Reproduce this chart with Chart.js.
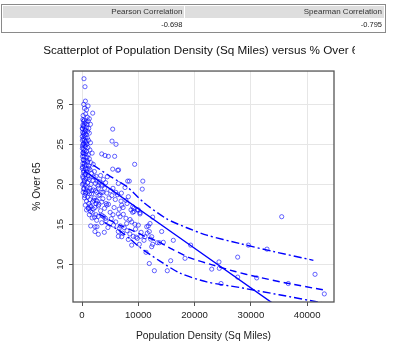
<!DOCTYPE html>
<html lang="en">
<head>
<meta charset="UTF-8">
<title>Population Density versus % Over 65</title>
<script src="https://cdn.jsdelivr.net/npm/chart.js@4.4.1/dist/chart.umd.min.js"></script>
<style>
  body { margin: 0; background: #fff; font-family: "Liberation Sans", Arial, sans-serif; }
  #wrap { position: absolute; left: 0; top: 0; width: 355px; height: 361px; overflow: hidden; }
  #corr { position: absolute; left: 1px; top: 4px; width: 385px; border: 1px solid #8a8a8a;
          border-collapse: separate; border-spacing: 1px; font-family: "Liberation Sans", Arial, sans-serif; }
  #corr th { background: #dedede; font-weight: normal; font-size: 8px; color: #333; text-align: right;
             height: 12px; line-height: 12px; padding: 0 2px; }
  #corr td { font-size: 7.5px; color: #222; text-align: right; height: 12px; line-height: 12px; padding: 0 2px; }
</style>
</head>
<body>
<div id="wrap"><canvas id="chart" width="400" height="361"></canvas></div>
<table id="corr"></table>

<script>
    const corrNames = ['Pearson Correlation', 'Spearman Correlation'];
    const corrValues = ['-0.698', '-0.795'];

    const xTicks = [0, 10000, 20000, 30000, 40000];
    const yTicks = [10, 15, 20, 25, 30];

    // [population density, % over 65]
    const counties = [
        [350,33.2],[530,32.2],[600,30.4],[300,30.0],[1070,29.8],[450,29.5],[800,29.3],[1900,28.9],[200,28.6],[650,28.8],
        [950,28.4],[1300,28.2],[400,28.0],[150,28.1],
        [250,27.9],[700,27.8],[1100,27.9],[500,27.6],[900,27.5],[150,27.4],[1500,27.5],[350,27.2],[800,27.1],[1200,27.0],
        [100,26.9],[600,26.8],[450,26.5],[1000,26.6],[250,26.3],[750,26.2],[1300,26.4],[50,26.0],[550,25.9],[950,25.8],
        [200,25.7],[400,25.5],[700,25.4],[1150,25.5],[300,25.1],[850,25.0],[1500,25.2],[100,24.8],[600,24.7],[1050,24.6],
        [250,24.4],[450,24.2],[800,24.1],[1400,24.3],[150,23.9],[650,23.8],[1100,23.7],[1800,23.9],[350,23.5],[900,23.4],
        [1300,23.2],[200,23.1],[550,22.9],[1000,22.8],[1600,22.7],[400,22.6],[750,22.4],[1200,22.3],[2000,22.5],[100,22.2],
        [600,22.0],[950,21.9],[1450,21.8],[300,21.7],[800,21.5],[1700,21.4],[2200,21.6],[500,21.2],[1100,21.1],[2500,21.0],
        [200,20.8],[700,20.7],[1300,20.6],[1900,20.5],[400,20.3],[1000,20.2],[1600,20.0],[2400,20.1],[600,19.9],[2800,19.8],
        [900,19.6],[1400,19.5],[300,19.4],[2000,19.3],[1150,19.1],[700,19.0],[2600,19.0],[1700,18.8],[500,18.6],[3200,18.7],
        [1000,18.4],[2200,18.3],[1400,18.1],[800,17.9],[1900,17.8],[2700,17.9],[1200,17.6],[3000,17.5],[1600,17.2],[2300,17.1],
        [50,27.0],[120,26.5],[80,25.5],[180,25.0],[60,24.5],[220,24.0],[90,23.5],[300,23.0],[150,22.6],[50,22.0],
        [250,21.5],[120,21.0],[400,20.5],[80,20.0],[350,19.5],[200,19.0],[600,18.9],[450,18.3],[250,27.3],[380,26.1],
        [520,24.9],[330,23.8],[460,22.3],[620,21.3],[280,20.1],[750,19.3],[560,26.7],[700,25.2],[880,23.0],[1250,22.0],
        [1050,20.8],[1350,18.8],[1700,19.2],[2100,18.0],[2500,17.6],[1100,17.0],[800,16.8],[1300,16.2],[1800,16.5],[2200,15.9],
        [2900,16.0],[590,17.4],[1190,17.0],
        [3300,21.1],[4500,20.95],[3800,20.6],[4200,20.2],[3100,20.3],[6450,20.1],[5100,19.2],[7640,19.6],[8230,18.45],[6930,17.9],
        [5920,18.1],[4390,17.4],[2900,17.3],[4700,17.5],[4300,17.6],[7050,17.4],[7300,17.1],[8700,16.8],[9000,17.2],[9200,17.0],
        [3600,19.8],[4000,19.5],[3400,19.0],[5500,19.5],[6000,19.0],[5300,18.6],[4800,18.3],[3700,18.2],[6300,18.7],[7000,18.9],
        [7800,18.0],[5700,17.1],[6600,16.9],[8000,17.6],
        [1420,17.3],[1540,16.6],[2490,16.2],[2600,15.5],[4260,15.45],[3550,16.1],[3850,15.95],[4150,15.75],[1540,14.8],[2300,14.7],
        [2660,14.7],[2300,14.1],[2900,13.75],[3960,14.0],[6450,16.3],[6750,15.95],[7340,16.25],[7810,15.75],[8530,15.6],[7930,15.1],
        [8820,15.3],[9000,16.5],[9400,15.0],[10000,14.9],[9230,16.6],[9820,16.8],[10300,16.45],[6630,14.5],[6450,14.1],[7050,13.45],
        [6450,13.5],[8230,13.1],[8820,12.4],[9600,13.4],[9820,13.25],[10180,12.5],[10420,13.5],[11190,13.45],[11010,13.0],[11490,14.7],
        [11780,14.8],[12080,15.1],[11950,14.1],[11600,13.9],[12380,13.45],[12200,13.15],[11370,11.5],[12380,12.2],[12550,12.5],[11950,10.1],
        [12850,9.2],[13380,12.7],[14150,14.1],[14440,12.75],[15150,9.2],[15750,10.45],[16220,13.0],[18300,10.75],[19300,12.4],[13730,12.7],
        [10000,16.8],[10300,16.3],[12550,15.9],
        [2100,20.9],[2700,20.4],[3500,20.0],[2900,19.5],[2400,19.2],[3700,19.0],[4400,18.9],[3000,18.6],[2500,18.0],[3500,17.8],
        [4000,17.0],[3300,16.7],[2000,16.9],[5000,16.5],[5500,16.2],[5200,15.7],[6000,15.3],[7500,14.6],[8000,14.2],[3500,15.2],
        [1800,15.8],[4600,14.6],[5600,14.9],[6800,14.8],[9500,14.4],[8500,13.8],[10500,14.0],[9100,13.5],[7200,13.9],
        [5450,26.9],[5330,25.4],[6040,25.0],[3500,23.8],[4090,23.6],[4680,23.5],[5800,23.5],[9350,22.5],[5450,21.9],[6330,21.75],
        [6500,21.8],[8110,20.4],[8400,20.4],[10800,20.4],[10700,19.4],
        [23040,9.4],[24330,10.3],[24390,9.5],[24690,7.6],[27650,10.9],[27650,8.4],[35470,15.95],[29540,12.4],[32860,11.9],[31030,8.3],
        [36640,7.6],[41390,8.75],[43040,6.3]
    ];

    // straight least-squares line
    const fitX = [300, 34000];
    const fitY = [21.75, 5.07];
    // smoother (dashed)
    const smoothX = [3000, 5000, 7000, 9000, 11500, 13300, 16000, 19200, 23300, 27200, 31000, 36000, 42900];
    const smoothY = [16.3, 15.5, 14.8, 14.2, 13.4, 12.9, 11.9, 10.8, 9.9, 9.1, 8.45, 7.7, 6.8];
    // spread lines (dot-dash)
    const upperX = [2000, 5000, 8000, 11000, 15000, 18500, 22150, 28000, 34000, 41100];
    const upperY = [22.4, 21.0, 19.7, 17.7, 15.7, 14.6, 13.65, 12.6, 11.6, 10.5];
    const lowerX = [4000, 6450, 8500, 10300, 13850, 17400, 22150, 28000, 35000, 42600];
    const lowerY = [15.2, 14.3, 13.2, 12.1, 10.4, 8.9, 7.8, 7.1, 6.2, 5.2];

    // correlation table
    const table = document.getElementById('corr');
    table.innerHTML =
        '<tr>' + corrNames.map((n, i) => '<th style="width:' + (i == 0 ? 177 : 194) + 'px">' + n + '</th>').join('') + '</tr>' +
        '<tr>' + corrValues.map(v => '<td>' + v + '</td>').join('') + '</tr>';

    function toXY(xs, ys) {
        return xs.map((x, i) => ({ x: x, y: ys[i] }));
    }

    function curve(label, xs, ys, dash) {
        return {
            type: 'line',
            label: label,
            data: toXY(xs, ys),
            borderColor: '#0000ff',
            borderWidth: 1.4,
            borderDash: dash,
            pointRadius: 0,
            tension: 0.25,
            fill: false,
            xAxisID: 'x',
            yAxisID: 'y'
        };
    }

    // R-style closed box round the plot region
    const plotBox = {
        id: 'plotBox',
        afterDraw(chart) {
            const { ctx, chartArea: a } = chart;
            ctx.save();
            ctx.strokeStyle = '#555';
            ctx.lineWidth = 1.3;
            ctx.strokeRect(a.left, a.top, a.right - a.left, a.bottom - a.top);
            ctx.restore();
        }
    };

    Chart.defaults.font.family = '"Liberation Sans", Arial, sans-serif';

    const ctx = document.getElementById('chart').getContext('2d');
    const myChart = new Chart(ctx, {
        type: 'scatter',
        data: {
            datasets: [
                curve('Linear fit', fitX, fitY, []),
                curve('Smoother', smoothX, smoothY, [7, 4]),
                curve('Upper spread', upperX, upperY, [8, 3, 2, 3]),
                curve('Lower spread', lowerX, lowerY, [8, 3, 2, 3]),
                {
                    type: 'scatter',
                    label: 'Counties',
                    data: counties.map(p => ({ x: p[0], y: p[1] })),
                    pointStyle: 'circle',
                    pointRadius: 2.1,
                    borderWidth: 1,
                    borderColor: 'rgba(0, 0, 255, 0.6)',
                    backgroundColor: 'rgba(0, 0, 0, 0)',
                    xAxisID: 'x',
                    yAxisID: 'y'
                }
            ]
        },
        options: {
            responsive: false,
            animation: false,
            layout: { padding: { left: 8, right: 0, top: 0, bottom: 0 } },
            plugins: {
                legend: { display: false },
                tooltip: { enabled: false },
                title: {
                    display: true,
                    text: 'Scatterplot of Population Density (Sq Miles) versus % Over 65',
                    color: '#111',
                    font: { size: 11.7, weight: 'normal' },
                    padding: { top: 44, bottom: 13 }
                }
            },
            scales: {
                x: {
                    type: 'linear',
                    min: -1600,
                    max: 44760,
                    afterBuildTicks: s => { s.ticks = xTicks.map(v => ({ value: v })); },
                    afterFit: s => { s.height = 59; },
                    grid: { color: '#e6e6e6', tickColor: '#555', tickLength: 4 },
                    border: { display: false },
                    ticks: {
                        color: '#222', font: { size: 9.6 }, padding: 4, maxRotation: 0, autoSkip: false,
                        callback: v => String(v)
                    },
                    title: {
                        display: true,
                        text: 'Population Density (Sq Miles)',
                        color: '#222',
                        font: { size: 10.3 },
                        padding: { top: 0, bottom: 19 }
                    }
                },
                y: {
                    type: 'linear',
                    min: 5.29,
                    max: 34.16,
                    afterBuildTicks: s => { s.ticks = yTicks.map(v => ({ value: v })); },
                    afterFit: s => { s.width = 65; },
                    grid: { color: '#e6e6e6', tickColor: '#555', tickLength: 4 },
                    border: { display: false },
                    ticks: {
                        color: '#222', font: { size: 9.6 }, padding: 3.6,
                        minRotation: 90, maxRotation: 90, crossAlign: 'center',
                        callback: v => String(v)
                    },
                    title: {
                        display: true,
                        text: '% Over 65',
                        color: '#222',
                        font: { size: 10.3 },
                        padding: { top: 22.5, bottom: 0 }
                    }
                },
                pad: {
                    type: 'linear',
                    position: 'right',
                    afterFit: s => { s.width = 66; },
                    grid: { display: false },
                    border: { display: false },
                    ticks: { display: false }
                }
            }
        },
        plugins: [plotBox]
    });
</script>
</body>
</html>
